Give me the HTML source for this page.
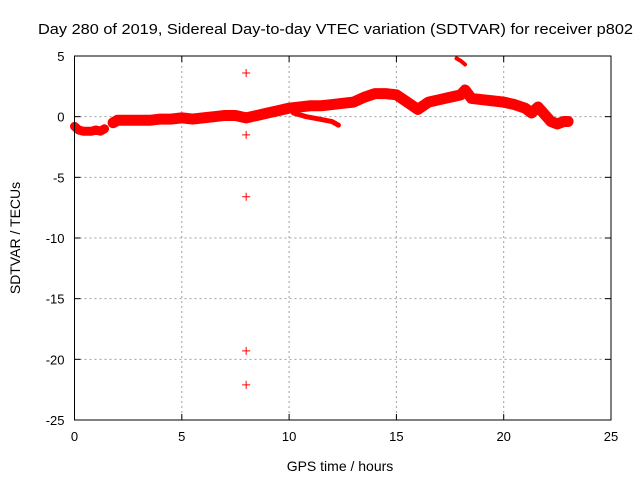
<!DOCTYPE html>
<html><head><meta charset="utf-8"><style>
body{margin:0;background:#fff}
svg{display:block;font-family:"Liberation Sans",sans-serif}
</style></head><body>
<svg id="chart" width="640" height="480" viewBox="0 0 640 480">
<text x="38" y="34" font-size="14.5" textLength="595" lengthAdjust="spacingAndGlyphs">Day 280 of 2019, Sidereal Day-to-day VTEC variation (SDTVAR) for receiver p802</text>
<g id="grid"></g><g id="data"></g><g id="axes"></g>
<text x="340" y="471" font-size="14" text-anchor="middle">GPS time / hours</text>
<text transform="translate(20,238) rotate(-90)" font-size="14" text-anchor="middle">SDTVAR / TECUs</text>
</svg>
<script>
const xTicks=[0,5,10,15,20,25];
const yTicks=[5,0,-5,-10,-15,-20,-25];
const mainHours=[0,0.2,0.4,0.6,0.8,1.0,1.2,1.4,1.8,2.0,2.5,3.0,3.5,4.0,4.5,5.0,5.5,6.0,6.5,7.0,7.5,8.0,8.5,9.0,9.5,10.0,10.5,11.0,11.5,12.0,12.5,13.0,13.5,14.0,14.5,15.0,15.5,16.0,16.5,17.0,17.5,18.0,18.2,18.5,19.0,19.5,20.0,20.5,21.0,21.3,21.6,21.9,22.2,22.5,22.8,23.0];
const mainValues=[-0.8,-1.1,-1.2,-1.2,-1.2,-1.1,-1.2,-1.0,-0.5,-0.3,-0.3,-0.3,-0.3,-0.2,-0.2,-0.1,-0.2,-0.1,0.0,0.1,0.1,-0.1,0.1,0.3,0.5,0.7,0.8,0.9,0.9,1.0,1.1,1.2,1.6,1.9,1.9,1.8,1.2,0.6,1.2,1.4,1.6,1.8,2.2,1.5,1.4,1.3,1.2,1.0,0.7,0.3,0.8,0.2,-0.4,-0.6,-0.4,-0.4];
const dipHours=[10.2,10.8,11.4,12.0,12.3];
const dipValues=[0.3,0.0,-0.2,-0.4,-0.7];
const highHours=[17.8,18.0,18.2];
const highValues=[4.8,4.6,4.3];
const outlierHours=[8,8,8,8,8];
const outlierValues=[3.6,-1.5,-6.6,-19.3,-22.1];
const X0=74.5,X1=611,Y0=56,Y1=420;
const xs=v=>X0+(v-0)/25*(X1-X0);
const ys=v=>Y0+(5-v)/30*(Y1-Y0);
const NS="http://www.w3.org/2000/svg";
function mk(t,a,p){const e=document.createElementNS(NS,t);for(const k in a)e.setAttribute(k,a[k]);p.appendChild(e);return e;}
const grid=document.getElementById('grid'),axes=document.getElementById('axes'),data=document.getElementById('data');
xTicks.forEach(t=>{
 if(t>0&&t<25){const l=mk('line',{x1:xs(t),x2:xs(t),y1:Y0,y2:Y1,stroke:'#a0a0a0','stroke-dasharray':'2,3'},grid);
 
 }
 mk('line',{x1:xs(t),x2:xs(t),y1:Y1,y2:Y1-6,stroke:'#000'},axes);
 mk('line',{x1:xs(t),x2:xs(t),y1:Y0,y2:Y0+6,stroke:'#000'},axes);
 const tx=mk('text',{x:xs(t),y:Y1+21,'font-size':13,'text-anchor':'middle'},axes);tx.textContent=t;
 
 
});
yTicks.forEach(t=>{
 if(t<5&&t>-25){const l=mk('line',{x1:X0,x2:X1,y1:ys(t),y2:ys(t),stroke:'#a0a0a0','stroke-dasharray':'2,3'},grid);
 
 }
 mk('line',{x1:X0,x2:X0+6,y1:ys(t),y2:ys(t),stroke:'#000'},axes);
 mk('line',{x1:X1,x2:X1-6,y1:ys(t),y2:ys(t),stroke:'#000'},axes);
 const tx=mk('text',{x:X0-10,y:ys(t)+5,'font-size':13,'text-anchor':'end'},axes);tx.textContent=t;
 
 
});
const fr=mk('rect',{x:X0,y:Y0,width:X1-X0,height:Y1-Y0,fill:'none',stroke:'#000'},axes);


function band(hs,vs,w,name){
 let d='';hs.forEach((h,i)=>{d+=(i?'L':'M')+xs(h)+','+ys(vs[i]);});
 const p=mk('path',{d:d,fill:'none',stroke:'#f00','stroke-width':w,'stroke-linejoin':'round','stroke-linecap':'round'},data);
 
 
}
band(mainHours.slice(0,8),mainValues.slice(0,8),9,'series-band-early');
band(mainHours.slice(8),mainValues.slice(8),11,'series-band-main');
band(dipHours,dipValues,5,'series-band-dip');
band(highHours,highValues,4,'series-band-high');
function plus(h,v){
 const x=xs(h),y=ys(v);
 const p=mk('path',{d:`M${x-4},${y}H${x+4}M${x},${y-4}V${y+4}`,stroke:'#f00','stroke-width':1},data);
 
 
}
mainHours.forEach((h,i)=>plus(h,mainValues[i]));
outlierHours.forEach((h,i)=>plus(h,outlierValues[i]));
</script>
</body></html>
